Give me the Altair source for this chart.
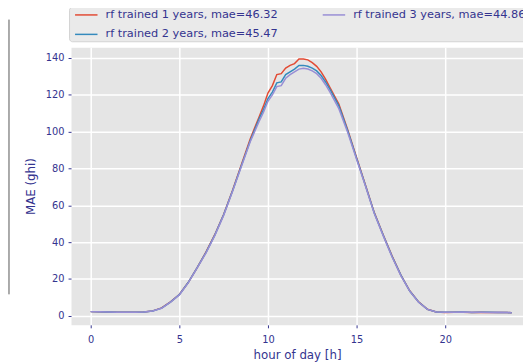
import altair as alt
import pandas as pd

hours = [0, 0.5, 1, 1.5, 2, 2.5, 3, 3.5, 4, 4.5, 5, 5.5, 6, 6.5, 7, 7.5, 8, 8.5, 9, 9.5,
         9.75, 10, 10.25, 10.5, 10.75, 11, 11.25, 11.5, 11.75, 12, 12.25, 12.5, 12.75, 13, 13.25, 13.5,
         14, 14.5, 15, 15.5, 16, 16.5, 17, 17.5, 18, 18.5, 19, 19.5, 20, 20.5, 21, 21.5, 22, 22.5, 23, 23.5, 23.75]

mae_1y = [2.2, 2.1, 2.0, 1.9, 1.8, 1.8, 2.0, 2.6, 4.2, 7.5, 11.5, 18, 26, 34.5, 44, 55, 68, 82, 96, 108,
          114, 121, 125, 131, 131.5, 134.5, 136, 137, 139.5, 139.5, 139, 137.5, 135.5, 132.5, 128.5, 124,
          115, 101, 86, 71, 56, 44, 32.5, 22, 13.5, 7.5, 3.5, 2.0, 1.7, 1.8, 1.9, 1.7, 1.8, 1.7, 1.7, 1.7, 1.6]

mae_2y = [2.2, 2.1, 2.0, 1.9, 1.8, 1.8, 2.0, 2.5, 4.1, 7.4, 11.4, 18, 26, 34.3, 43.8, 54.8, 67.8, 81.5, 95, 107,
          112, 118, 121.5, 126.5, 127, 131, 132.5, 134, 136, 136, 135.5, 134.5, 133, 130.5, 127, 123,
          114, 100.5, 85.5, 70.8, 55.8, 43.8, 32.3, 22, 13.4, 7.4, 3.4, 2.0, 1.8, 1.8, 2.0, 1.7, 1.8, 1.8, 1.7, 1.7, 1.6]

mae_3y = [2.2, 2.1, 2.0, 1.9, 1.8, 1.8, 2.0, 2.5, 4.0, 7.3, 11.3, 17.8, 25.8, 34.0, 43.5, 54.5, 67.5, 81, 94.5, 105.5,
          110.5, 116.5, 120, 124.5, 125, 129, 131, 132.5, 134, 134.5, 134, 133, 131.5, 129, 125.5, 121.5,
          112.5, 99.5, 85, 70.5, 55.5, 43.5, 32, 21.8, 13.3, 7.3, 3.4, 2.0, 1.8, 1.9, 2.0, 1.8, 1.8, 1.7, 1.8, 1.7, 1.6]

series_names = ["rf trained 1 years, mae=46.32",
                "rf trained 2 years, mae=45.47",
                "rf trained 3 years, mae=44.86"]
series_colors = ["#E24A33", "#348ABD", "#988ED5"]

x_ticks = [0, 5, 10, 15, 20]
y_ticks = [0, 20, 40, 60, 80, 100, 120, 140]

rows = []
for name, vals in zip(series_names, [mae_1y, mae_2y, mae_3y]):
    for h, v in zip(hours, vals):
        rows.append({"hour": h, "mae": v, "series": name})
df = pd.DataFrame(rows)

NAVY = "#34348F"
FONT = "DejaVu Sans"

lines = alt.Chart(df).mark_line(strokeWidth=1.5).encode(
    x=alt.X("hour:Q",
            scale=alt.Scale(domain=[-1.11, 24.39], nice=False, zero=False),
            axis=alt.Axis(values=x_ticks, title="hour of day [h]", format="d",
                          labelPadding=7, titlePadding=5)),
    y=alt.Y("mae:Q",
            scale=alt.Scale(domain=[-5.0, 145.9], nice=False, zero=False),
            axis=alt.Axis(values=y_ticks, title="MAE (ghi)", labelPadding=4, titlePadding=8)),
    color=alt.Color("series:N",
                    scale=alt.Scale(domain=series_names, range=series_colors),
                    legend=alt.Legend(title=None, orient="none", legendX=-2, legendY=-41,
                                      columns=2, direction="vertical",
                                      symbolType="M-1.9,0H1.9", symbolSize=144,
                                      symbolStrokeWidth=1.5, symbolFillColor="transparent",
                                      symbolOffset=9.5, labelFontSize=11.5,
                                      labelColor=NAVY, labelFont=FONT,
                                      fillColor="#EAEAEA", strokeColor="#D2D2D2",
                                      cornerRadius=3, padding=1, rowPadding=7,
                                      columnPadding=39.5, labelOffset=12.5, labelLimit=400)),
)

edge = alt.Chart(pd.DataFrame({"k": [0]})).mark_rule(color="#555555", strokeWidth=1).encode(
    x=alt.value(-63), y=alt.value(-28), y2=alt.value(251))

chart = alt.layer(lines, edge).properties(
    width=459, height=282,
    autosize=alt.AutoSizeParams(type="none"),
    padding={"left": 64, "top": 37, "right": 0, "bottom": 40},
).configure_view(
    fill="#E5E5E5", stroke="transparent"
).configure_axis(
    gridColor="white", gridWidth=1.5, domain=False,
    tickColor=NAVY, tickSize=3, labelColor=NAVY, titleColor=NAVY,
    labelFont=FONT, titleFont=FONT, labelFontSize=10, titleFontSize=12,
    titleFontWeight="normal"
)

chart.save("out.html", embed_options={"renderer": "svg", "actions": False})
